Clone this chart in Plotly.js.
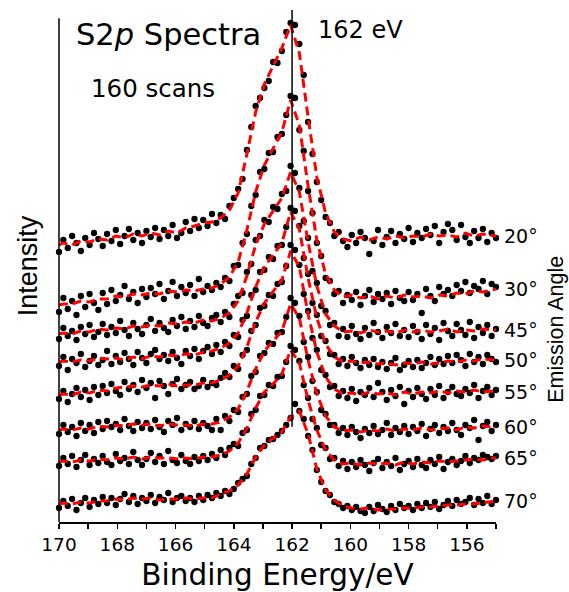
<!DOCTYPE html>
<html>
<head>
<meta charset="utf-8">
<script src="https://cdn.plot.ly/plotly-3.0.1.min.js"></script>
<style>html,body{margin:0;padding:0;background:#fff;}</style>
</head>
<body>
<div id="chart" style="width:569px;height:592px;"></div>
<script>
// Binding energy grid of the measured points (eV)
const energy = [
170.00,169.85,169.70,169.55,169.40,169.25,169.10,168.95,168.80,168.65,
168.50,168.35,168.20,168.05,167.90,167.75,167.60,167.45,167.30,167.15,
167.00,166.85,166.70,166.55,166.40,166.25,166.10,165.95,165.80,165.65,
165.50,165.35,165.20,165.05,164.90,164.75,164.60,164.45,164.30,164.15,
164.00,163.85,163.70,163.55,163.40,163.25,163.10,162.95,162.80,162.65,
162.50,162.35,162.20,162.05,161.90,161.75,161.60,161.45,161.30,161.15,
161.00,160.85,160.70,160.55,160.40,160.25,160.10,159.95,159.80,159.65,
159.50,159.35,159.20,159.05,158.90,158.75,158.60,158.45,158.30,158.15,
158.00,157.85,157.70,157.55,157.40,157.25,157.10,156.95,156.80,156.65,
156.50,156.35,156.20,156.05,155.90,155.75,155.60,155.45,155.30,155.15,
155.00];

// Energy grid of the fitted curves (eV)
const fitEnergy = [
170.00,169.85,169.55,169.25,168.95,168.65,168.35,168.05,167.75,167.45,
167.15,166.85,166.55,166.25,165.95,165.65,165.35,165.05,164.75,164.45,
164.15,163.85,163.55,163.25,162.95,162.65,162.35,162.05,161.75,161.45,
161.15,160.85,160.55,160.25,159.95,159.65,159.35,159.05,158.75,158.45,
158.15,157.85,157.55,157.25,156.95,156.65,156.35,156.05,155.75,155.45,
155.15,155.00];

const angleLabels = ['20°','30°','45°','50°','55°','60°','65°','70°'];
const xTickValues = [170,168,166,164,162,160,158,156];
const peakEnergy = 162;

// Measured intensities (arbitrary units, stacked)
const data20 = [
270,282,274,286,279,271,284,277,289,283,
276,288,281,292,278,286,293,282,289,279,
291,285,294,283,292,286,297,284,289,300,
291,303,294,302,296,308,299,307,303,316,
324,333,343,372,395,416,424,434,441,460,
459,471,490,499,497,478,447,400,368,340,
322,305,299,286,290,281,275,287,279,290,
284,268,281,292,277,285,291,279,288,283,
294,280,289,284,293,287,296,279,290,298,
292,282,297,285,279,291,284,293,280,289,
284];
const data30 = [
210,224,213,221,207,226,215,228,219,212,
229,218,232,221,227,236,223,230,219,233,
225,234,228,238,223,231,240,226,235,229,
237,226,243,230,236,232,239,235,244,241,
256,257,279,288,316,327,350,353,369,370,
385,388,407,426,424,392,371,331,309,279,
266,244,241,228,231,219,227,222,230,217,
226,232,220,228,223,229,218,231,224,221,
230,222,228,209,233,226,221,235,228,232,
226,237,231,240,229,236,233,241,228,238,
235];
const data45 = [
183,194,186,191,182,195,188,197,185,190,
198,187,195,189,201,192,186,199,193,188,
197,203,191,199,194,190,202,196,205,193,
201,195,206,199,196,204,207,200,210,205,
218,226,229,250,258,282,286,302,300,315,
313,328,331,356,349,334,301,284,251,239,
216,211,197,199,186,193,185,196,188,183,
194,187,199,190,184,195,189,198,186,192,
185,196,190,183,197,188,194,182,199,191,
186,198,192,187,200,184,195,189,197,186,
193];
const data50 = [
156,165,152,163,159,168,155,161,166,157,
162,171,158,166,160,169,163,157,170,164,
159,168,172,163,167,161,170,164,158,171,
166,173,163,171,175,168,177,170,180,176,
187,185,202,206,227,232,250,252,265,263,
276,277,295,314,311,296,264,248,219,207,
186,181,168,167,158,163,156,165,159,154,
162,157,163,155,160,153,159,164,152,157,
161,155,162,154,159,165,157,163,158,166,
159,167,162,156,168,160,165,158,167,163,
160];
const data55 = [
123,131,120,128,134,125,132,122,135,127,
136,129,138,131,127,140,133,137,130,142,
134,139,124,141,136,128,138,143,133,137,
140,133,136,142,135,139,137,144,149,145,
156,153,167,172,191,197,214,216,227,226,
238,240,256,277,272,257,228,211,184,172,
152,147,135,136,126,131,124,133,121,130,
127,134,125,139,130,122,132,126,135,118,
131,125,134,128,123,133,127,136,124,130,
135,128,126,133,129,137,124,131,135,127,
132];
const data60 = [
88,97,90,95,86,99,91,97,89,100,
93,101,95,98,92,103,96,91,100,94,
99,93,102,95,90,101,97,104,92,98,
95,101,93,99,96,92,103,92,106,101,
112,110,125,128,146,150,166,169,179,178,
189,190,205,224,219,206,180,165,141,130,
112,108,97,97,89,94,87,95,90,84,
93,89,96,88,92,99,87,94,90,96,
88,95,91,98,86,93,97,89,95,91,
99,92,87,97,94,102,82,96,100,91,
97];
const data65 = [
56,64,58,66,55,62,67,57,63,59,
66,60,57,68,61,64,58,70,62,57,
63,69,60,66,58,71,62,59,67,61,
58,65,61,66,62,68,64,72,67,74,
78,76,89,92,108,112,126,127,137,136,
145,146,160,176,172,161,137,124,103,94,
77,74,63,64,56,61,53,60,55,62,
57,51,59,63,54,60,56,64,52,58,
61,55,63,57,54,62,58,65,53,60,
63,57,61,66,59,64,62,67,65,63,
66];
const data70 = [
14,21,16,23,12,19,24,15,22,18,
25,19,24,17,23,28,20,26,18,24,
21,27,19,25,22,29,20,24,26,21,
24,20,26,22,27,24,29,26,31,28,
33,39,43,46,58,64,74,76,82,83,
87,91,97,104,118,111,103,86,72,52,
40,31,27,20,18,14,16,12,15,11,
9,15,11,17,13,10,16,12,18,14,
16,12,18,14,19,15,20,13,17,21,
16,22,18,20,24,17,23,19,26,18,
22];

// Fitted curves (same units)
const fit20 = [277,279,277,281,280,283,282,286,284,288,286,289,287,291,289,294,296,299,300,
304,312,329,368,410,438,456,474,497,469,405,345,309,290,283,
281,285,282,285,283,286,284,286,285,288,286,287,285,289,286,288,287,286];
const fit30 = [217,218,218,221,220,223,223,226,225,228,227,229,228,231,230,232,231,233,234,
238,245,260,292,330,357,373,390,422,397,336,282,248,232,225,
227,224,226,223,226,224,227,225,226,224,227,226,229,228,231,230,232,233];
const fit45 = [188,189,188,191,190,193,192,194,193,196,195,197,196,199,198,200,199,202,201,
204,209,221,246,277,298,311,324,350,330,280,236,208,196,190,
191,189,192,190,191,189,192,190,192,190,191,193,190,192,191,193,192,192];
const fit50 = [160,161,160,162,161,164,163,164,162,165,163,166,165,167,166,168,167,170,171,
174,179,189,209,235,255,267,279,310,293,244,204,178,165,160,
161,159,160,158,159,157,159,158,160,158,159,161,160,162,161,163,162,162];
const fit55 = [127,128,127,130,129,132,131,134,135,136,135,137,136,138,136,137,137,139,139,
142,147,156,175,200,219,230,242,271,255,208,170,145,133,128,
129,127,130,128,129,127,130,128,130,129,131,129,131,130,132,130,131,130];
const fit60 = [92,93,92,94,93,96,95,97,96,98,97,98,96,98,97,97,96,98,98,
100,105,113,131,153,171,181,191,218,204,162,128,106,95,91,
92,90,92,91,93,91,93,92,94,92,93,94,92,95,94,96,95,95];
const fit65 = [60,61,60,62,61,63,62,64,63,65,63,65,64,64,63,64,63,65,65,
67,71,79,94,114,130,138,148,172,159,122,92,72,62,58,
59,57,59,58,59,57,60,58,60,59,61,60,61,62,63,62,64,64];
const fit70 = [18,19,18,20,19,21,21,23,22,24,23,24,22,23,23,24,23,24,24,
28,31,37,48,65,77,84,90,105,111,88,53,32,22,16,
14,13,14,12,13,13,14,14,15,15,16,17,17,18,18,19,20,21];

const dataSeries = [data20, data30, data45, data50, data55, data60, data65, data70];
const fitSeries = [fit20, fit30, fit45, fit50, fit55, fit60, fit65, fit70];

const traces = [];
dataSeries.forEach(function (ys, k) {
  traces.push({
    type: 'scatter', mode: 'markers', x: energy, y: ys, name: angleLabels[k],
    marker: {color: '#000000', size: 6.3}, cliponaxis: false, showlegend: false, hoverinfo: 'x+y'
  });
});
fitSeries.forEach(function (ys, k) {
  traces.push({
    type: 'scatter', mode: 'lines', x: fitEnergy, y: ys, name: angleLabels[k] + ' fit',
    line: {color: '#ff0000', width: 3, dash: '9px,5px'}, cliponaxis: false, showlegend: false
  });
});

const annotations = angleLabels.map(function (t, k) {
  const f = fitSeries[k];
  return {
    text: t, xref: 'paper', x: 1.013, xanchor: 'left',
    yref: 'y', y: f[f.length - 1], yanchor: 'middle', showarrow: false,
    font: {family: 'DejaVu Sans', size: 19, color: '#000'}
  };
});
annotations.push(
  {text: 'S2<i>p</i> Spectra', xref: 'paper', yref: 'paper', x: 0.035, y: 0.953,
   xanchor: 'left', yanchor: 'middle', showarrow: false,
   font: {family: 'DejaVu Sans', size: 30.5, color: '#000'}},
  {text: '160 scans', xref: 'paper', yref: 'paper', x: 0.068, y: 0.846,
   xanchor: 'left', yanchor: 'middle', showarrow: false,
   font: {family: 'DejaVu Sans', size: 24.5, color: '#000'}},
  {text: peakEnergy + ' eV', xref: 'paper', yref: 'paper', x: 0.588, y: 0.960,
   xanchor: 'left', yanchor: 'middle', showarrow: false,
   font: {family: 'DejaVu Sans', size: 24, color: '#000'}},
  {text: 'Emission Angle', xref: 'paper', yref: 'paper', x: 1.137, y: 0.377,
   xanchor: 'center', yanchor: 'middle', textangle: -90, showarrow: false,
   font: {family: 'Liberation Sans', size: 21.5, color: '#000'}}
);

const layout = {
  width: 569, height: 592,
  margin: {l: 59, r: 73, t: 10, b: 70, pad: 0},
  paper_bgcolor: '#ffffff', plot_bgcolor: '#ffffff',
  font: {family: 'DejaVu Sans', color: '#000'},
  showlegend: false,
  xaxis: {
    range: [170, 155], tickvals: xTickValues, ticks: 'outside', ticklen: 5, tickwidth: 1.5,
    tickcolor: '#000', showline: true, linewidth: 1.5, linecolor: '#000',
    showgrid: false, zeroline: false, tickfont: {family: 'DejaVu Sans', size: 18.5, color: '#000'},
    minor: {dtick: 1, tick0: 170, ticks: 'outside', ticklen: 5, tickwidth: 1.5, tickcolor: '#000', showgrid: false},
    title: {text: 'Binding Energy/eV', font: {family: 'DejaVu Sans', size: 29.5, color: '#000'}, standoff: 17}
  },
  yaxis: {
    range: [0, 512], showticklabels: false, ticks: '', showgrid: false, zeroline: false, showline: false,
    title: {text: 'Intensity', font: {family: 'Liberation Sans', size: 27, color: '#000'}, standoff: 12}
  },
  shapes: [
    {type: 'line', xref: 'paper', yref: 'paper', x0: 0, x1: 0, y0: 0, y1: 0.984,
     line: {color: '#000', width: 1.5}},
    {type: 'line', xref: 'x', yref: 'paper', x0: peakEnergy, x1: peakEnergy, y0: 0.186, y1: 1,
     line: {color: '#000', width: 1.5}}
  ],
  annotations: annotations
};

Plotly.newPlot('chart', traces, layout, {displayModeBar: false, staticPlot: true});
</script>
</body>
</html>
